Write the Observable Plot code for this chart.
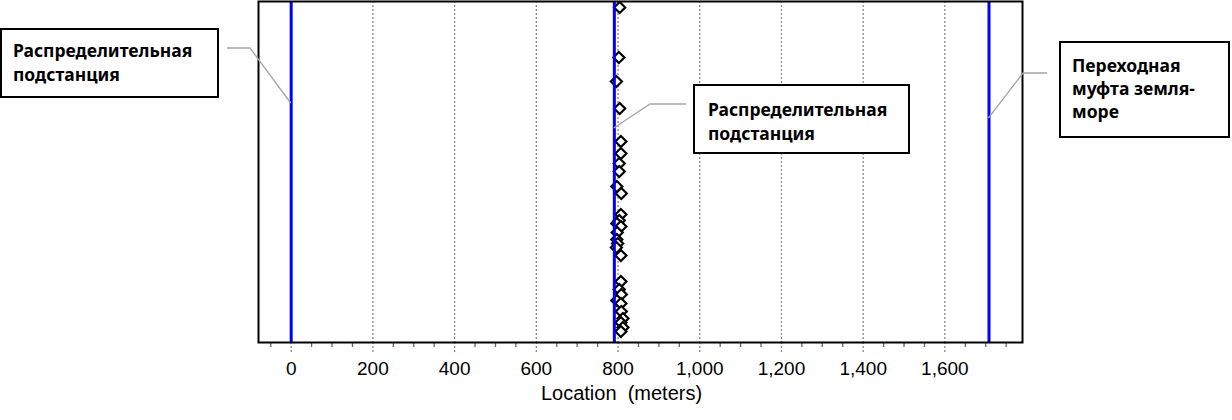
<!DOCTYPE html>
<html><head><meta charset="utf-8">
<script src="https://cdn.jsdelivr.net/npm/d3@7"></script>
<script src="https://cdn.jsdelivr.net/npm/@observablehq/plot@0.6"></script>
<style>
body{margin:0;background:#fff;}
#chart{position:relative;width:1232px;height:420px;}
svg text{white-space:pre;}
</style></head><body><div id="chart"></div>
<script>
// ---- data ----
const stationNames = [["Распределительная", "подстанция"], ["Распределительная", "подстанция"], ["Переходная", "муфта земля-", "море"]];
const stationLocations = [0, 791, 1708];

const eventLocations = [804, 802, 796, 804, 807, 807, 803, 803, 797, 808, 807, 803, 797, 807, 798, 797, 799, 796, 807, 807, 803, 808, 797, 807, 808, 812, 807, 812, 807];
const eventRows      = [6, 56, 80, 107, 140, 152, 162, 170, 185, 192, 213, 219, 222, 225, 231, 238, 242, 246, 254, 280, 288, 293, 299, 302, 310, 317, 321, 326, 330];

const majorTicks = [0, 200, 400, 600, 800, 1000, 1200, 1400, 1600];
const minorTicks = [-50, 50, 100, 150, 250, 300, 350, 450, 500, 550, 650, 700, 750, 850, 900, 950, 1050, 1100, 1150, 1250, 1300, 1350, 1450, 1500, 1550, 1650, 1700, 1750];
const axisTitle = "Location  (meters)";

// ---- tables built from the arrays ----
const stations = stationLocations.map((loc, i) => ({loc, name: stationNames[i]}));
const events = eventLocations.map((loc, i) => ({loc, row: eventRows[i]}));

// ---- layout of callout boxes (pixels) ----
const boxes = [
  {x: 1, y: 29, w: 217, h: 68, tx: 13, ty: 57, lh: 24, startX: 227, elbowX: 250, elbowY: 48, endY: 103},
  {x: 694, y: 85, w: 215, h: 68, tx: 708, ty: 116, lh: 24, startX: 686, elbowX: 650, elbowY: 104, endY: 128},
  {x: 1060, y: 42, w: 169, h: 95, tx: 1072, ty: 72, lh: 23, startX: 1047, elbowX: 1023, elbowY: 73, endY: 118}
];

const fmt = d3.format(",");
const plot = Plot.plot({
  width: 1232, height: 420,
  marginLeft: 258, marginRight: 210, marginTop: 1, marginBottom: 78,
  x: {domain: [-80, 1790]},
  y: {domain: [0, 341], reverse: true, axis: null},
  style: {fontFamily: "'Liberation Sans', Arial, sans-serif", fontSize: "19px", color: "black", background: "white", overflow: "visible"},
  marks: [
    Plot.gridX(majorTicks, {stroke: "#8a8a8a", strokeOpacity: 1, strokeDasharray: "2,2", strokeWidth: 1.3}),
    Plot.axisX({ticks: minorTicks, tickSize: 5, tickFormat: () => "", stroke: "#666", strokeWidth: 1.3, label: null}),
    Plot.axisX({ticks: majorTicks, tickSize: 11, tickPadding: 8, tickFormat: fmt, stroke: "#8a8a8a", strokeWidth: 1.3, strokeDasharray: "2,2", label: null, fill: "black"}),
    Plot.dot(events, {x: "loc", y: "row", symbol: "diamond2", r: 5, stroke: "black", strokeWidth: 2.2, fill: "white"}),
    Plot.ruleX(stations, {x: "loc", stroke: "#0000ff", strokeWidth: 3}),
    Plot.frame({stroke: "black", strokeWidth: 2}),
    Plot.text([axisTitle], {frameAnchor: "bottom", dx: -19, dy: 57, fontSize: 20, fill: "black"})
  ]
});
document.getElementById("chart").appendChild(plot);

// ---- callouts ----
const xs = plot.scale("x");
const svg = d3.select(plot);
const g = svg.append("g").attr("text-anchor", "start");
boxes.forEach((b, i) => {
  const px = xs.apply(stations[i].loc);
  g.append("polyline")
    .attr("points", `${b.startX},${b.elbowY} ${b.elbowX},${b.elbowY} ${px},${b.endY}`)
    .attr("fill", "none").attr("stroke", "#a6a6a6").attr("stroke-width", 1.3);
  g.append("rect").attr("x", b.x).attr("y", b.y).attr("width", b.w).attr("height", b.h)
    .attr("fill", "white").attr("stroke", "black").attr("stroke-width", 2);
  const t = g.append("text").attr("font-family", "'Noto Sans', sans-serif").attr("font-weight", "bold")
    .attr("font-size", 17.5).attr("fill", "black").attr("text-anchor", "start");
  stations[i].name.forEach((line, j) => {
    t.append("tspan").attr("x", b.tx).attr("y", b.ty + j * b.lh).text(line);
  });
});
</script></body></html>
